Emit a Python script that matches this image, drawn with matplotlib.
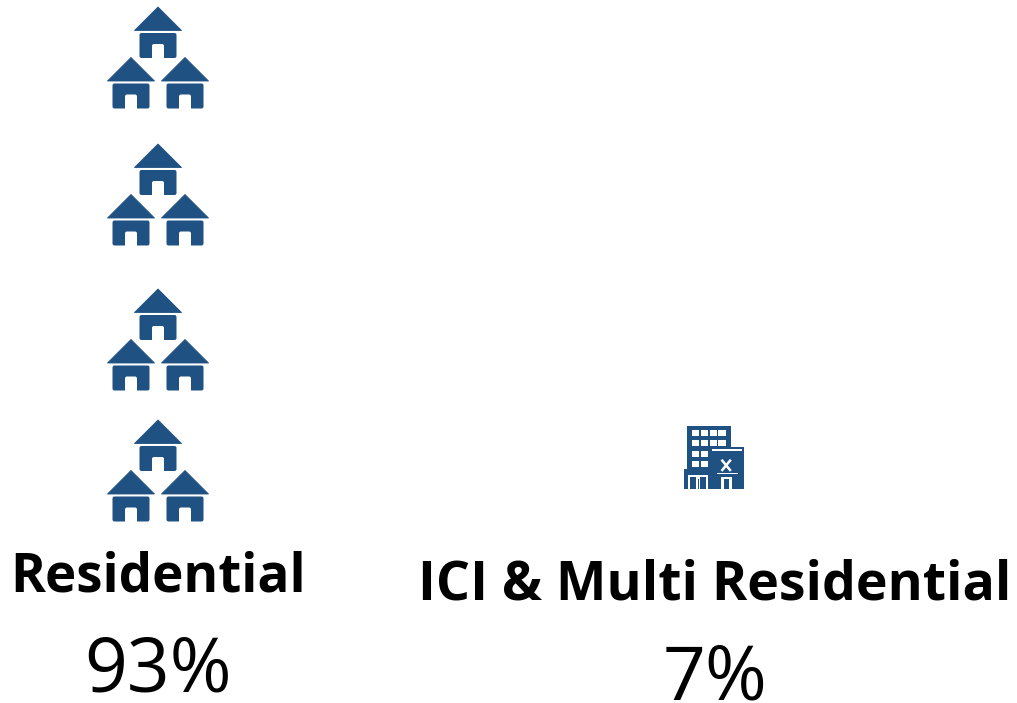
import matplotlib
matplotlib.use('Agg')
import matplotlib.pyplot as plt
from matplotlib.patches import Polygon, Rectangle, FancyBboxPatch

# chart values
categories = ['Residential', 'ICI & Multi Residential']
shares = ['93%', '7%']
house_cluster_tops = [7, 144, 289, 420]

BLUE = '#1f5182'
W, H = 1017, 703

fig = plt.figure(figsize=(W / 100, H / 100), dpi=100)
ax = fig.add_axes([0, 0, 1, 1])
ax.set_xlim(0, W)
ax.set_ylim(H, 0)
ax.axis('off')


def house(cx, top):
    ax.add_patch(Polygon([(cx, top), (cx + 23.5, top + 23.5), (cx - 23.5, top + 23.5)],
                         closed=True, fc=BLUE, ec=BLUE, lw=0.6, joinstyle='round'))
    ax.add_patch(FancyBboxPatch((cx - 18.5, top + 26), 37, 25,
                                boxstyle='round,pad=0,rounding_size=2', fc=BLUE, ec='none'))
    ax.add_patch(FancyBboxPatch((cx - 6, top + 37), 12, 17,
                                boxstyle='round,pad=0,rounding_size=2', fc='white', ec='none'))
    ax.add_patch(Rectangle((cx - 6, top + 51.5), 12, 3, fc='white', ec='none'))


def house_cluster(top):
    house(158, top)
    house(131, top + 50.5)
    house(185, top + 50.5)


def rect(x0, y0, x1, y1, color):
    # corners are in zoomed icon units, 3 per pixel, from the icon corner
    ax.add_patch(Rectangle((675 + x0 / 3, 420 + y0 / 3), (x1 - x0) / 3, (y1 - y0) / 3,
                           fc=color, ec='none'))


def building():
    rect(35, 18, 167, 160, BLUE)
    rect(105, 82, 207, 207, BLUE)
    rect(27, 147, 207, 207, BLUE)
    # windows
    for row, y in enumerate([30, 60, 92, 122]):
        cols = [50, 78, 104, 130] if row < 2 else [50, 78]
        for x in cols:
            rect(x, y, x + 22, y + 18, 'white')
    rect(110, 88, 200, 93, 'white')
    rect(125, 158, 190, 163, 'white')
    # tools
    ax.plot([675 + 142 / 3, 675 + 165 / 3], [420 + 122 / 3, 420 + 150 / 3], color='white', lw=1.8)
    ax.plot([675 + 165 / 3, 675 + 142 / 3], [420 + 122 / 3, 420 + 150 / 3], color='white', lw=1.8)
    # shop door
    rect(138, 170, 170, 207, 'white')
    rect(146, 178, 162, 207, BLUE)
    # shop arches
    rect(40, 165, 100, 207, 'white')
    rect(46, 172, 94, 207, BLUE)
    rect(64, 172, 76, 207, 'white')
    rect(69, 178, 71, 207, BLUE)


for top in house_cluster_tops:
    house_cluster(top)
building()

font = ['Open Sans', 'DejaVu Sans']
ax.text(158.5, 591, categories[0], ha='center', va='baseline', fontsize=38.2, fontweight='bold', family=font, color='black')
ax.text(715, 600, categories[1], ha='center', va='baseline', fontsize=38.6, fontweight='bold', family=font, color='black')
ax.text(158.5, 692, shares[0], ha='center', va='baseline', fontsize=54, family=font, color='black')
ax.text(715, 699, shares[1], ha='center', va='baseline', fontsize=54, family=font, color='black')

fig.savefig('out.png', dpi=100, facecolor='white')
